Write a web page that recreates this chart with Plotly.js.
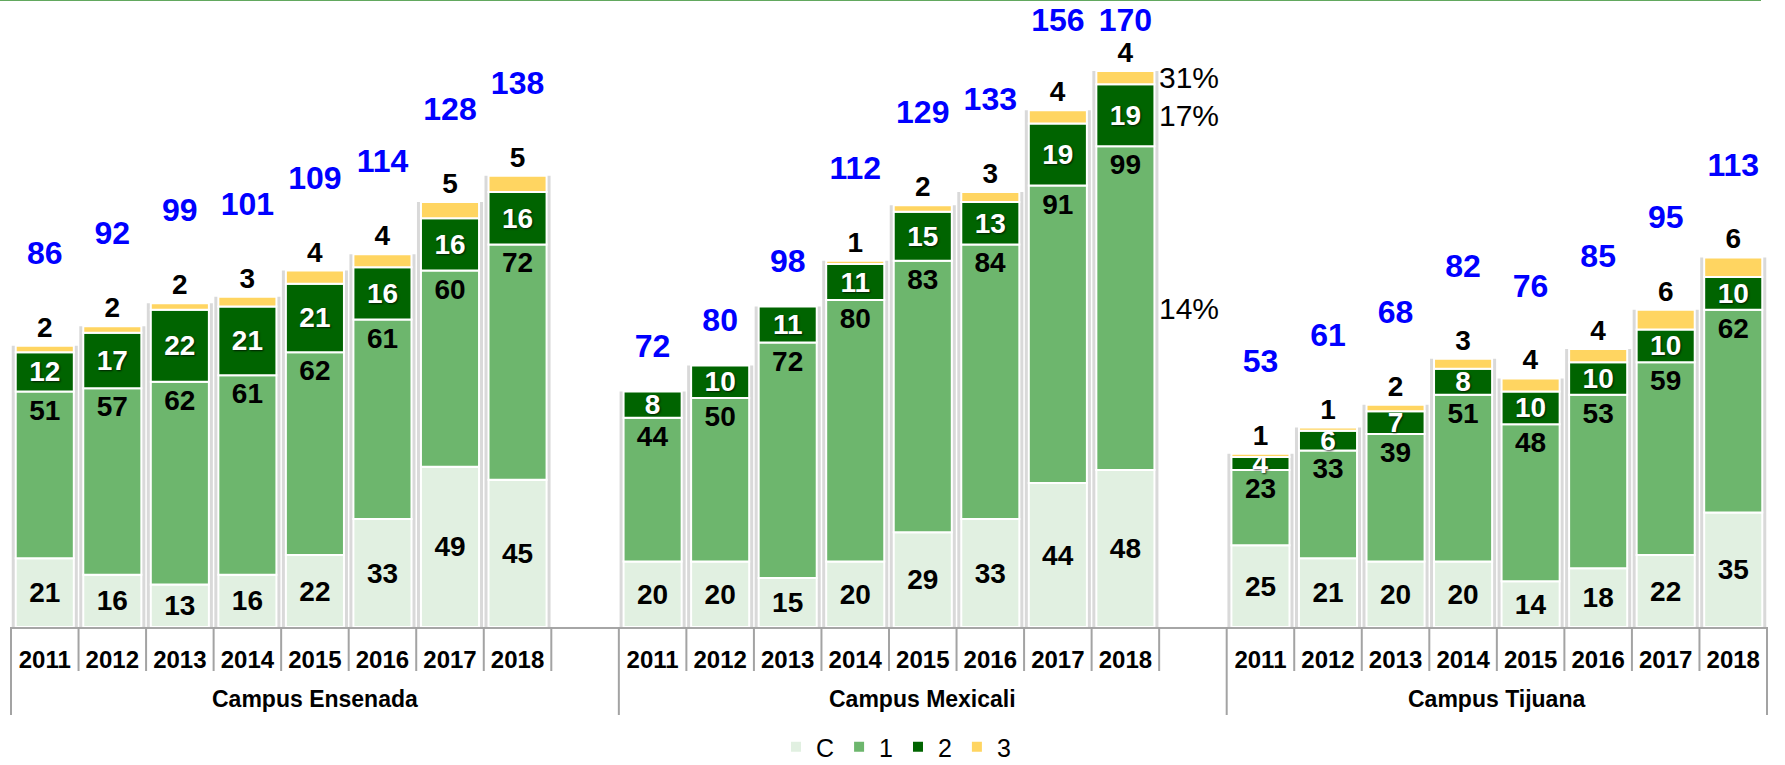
<!DOCTYPE html>
<html>
<head>
<meta charset="utf-8">
<script src="https://cdn.plot.ly/plotly-3.0.1.min.js"></script>
<style>
	html, body { margin: 0; padding: 0; background: #fff; }
	#chart { width: 1785px; height: 765px; }
</style>
</head>
<body>
<div id="chart"></div>
<script>
const campuses = ['Campus Ensenada', 'Campus Mexicali', 'Campus Tijuana'];
const years = ['2011', '2012', '2013', '2014', '2015', '2016', '2017', '2018'];
const seriesNames = ['C', '1', '2', '3'];

// one value per campus and year: Ensenada 2011-2018, Mexicali 2011-2018, Tijuana 2011-2018
const valuesC = [21, 16, 13, 16, 22, 33, 49, 45, 20, 20, 15, 20, 29, 33, 44, 48, 25, 21, 20, 20, 14, 18, 22, 35];
const values1 = [51, 57, 62, 61, 62, 61, 60, 72, 44, 50, 72, 80, 83, 84, 91, 99, 23, 33, 39, 51, 48, 53, 59, 62];
const values2 = [12, 17, 22, 21, 21, 16, 16, 16, 8, 10, 11, 11, 15, 13, 19, 19, 4, 6, 7, 8, 10, 10, 10, 10];
const values3 = [2, 2, 2, 3, 4, 4, 5, 5, null, null, null, 1, 2, 3, 4, 4, 1, 1, 2, 3, 4, 4, 6, 6];
const totals = [86, 92, 99, 101, 109, 114, 128, 138, 72, 80, 98, 112, 129, 133, 156, 170, 53, 61, 68, 82, 76, 85, 95, 113];

// labels shown beside Campus Mexicali 2018, for series 1, 2 and 3
const growthLabels = ['14%', '17%', '31%'];

const font = 'Liberation Sans, Arial, sans-serif';
const colors = ['#e1f0e1', '#6db66d', '#006400', '#ffd561'];
const pageH = 765;
const plotW = 1756;
const plotH = 627;
const pxPerUnit = 3.27;

// every campus gets one empty slot after it, except the last
const slotsPerGroup = years.length + 1;
const nSlots = campuses.length * slotsPerGroup - 1;
const xPos = [];
campuses.forEach((c, g) => years.forEach((y, i) => xPos.push(g * slotsPerGroup + i)));

const series = [valuesC, values1, values2, values3];
const bases = series.map((s, k) => s.map((_, i) => series.slice(0, k).reduce((a, t) => a + (t[i] || 0), 0)));
const stackTop = valuesC.map((_, i) => series.reduce((a, t) => a + (t[i] || 0), 0));

const py = px => 1 - px / plotH;
const slotToPaper = s => (s + 0.5) / nSlots;

const barWidth = 0.86;
const traces = [];

// soft grey shadow behind every stack
traces.push({
	type: 'bar',
	x: xPos,
	y: stackTop,
	width: barWidth + 8 / (plotW / nSlots),
	marker: {color: 'rgba(0,0,0,0.15)'},
	hoverinfo: 'skip',
	showlegend: false
});

const textAnchor = ['middle', 'end', 'middle', 'middle'];
const textColor = ['#000', '#000', '#fff', '#000'];
series.forEach((s, k) => {
	traces.push({
		type: 'bar',
		name: seriesNames[k],
		x: xPos,
		y: s,
		base: bases[k],
		width: barWidth,
		marker: {color: colors[k], line: {color: '#fff', width: 2}},
		text: s.map(v => (v == null ? '' : String(v))),
		textposition: k === 3 ? 'outside' : 'inside',
		insidetextanchor: textAnchor[k],
		textangle: 0,
		constraintext: 'none',
		textfont: {
			family: font, size: 28, color: textColor[k], weight: 'bold',
			shadow: k === 2 ? '1px 1px 2px rgba(0,0,0,0.7)' : 'none'
		},
		cliponaxis: false,
		hoverinfo: 'skip'
	});
});

// blue totals above each stack
const yMax = plotH / pxPerUnit;
traces.push({
	type: 'scatter',
	mode: 'text',
	x: xPos,
	y: stackTop.map((t, i) => Math.min(t + (values3[i] == null ? 13 : 27.5), yMax - 7)),
	text: totals.map(String),
	textposition: 'middle center',
	textfont: {family: font, size: 32, color: '#0000ff', weight: 'bold'},
	cliponaxis: false,
	hoverinfo: 'skip',
	showlegend: false
});

const shapes = [];
// thin green rule at the top of the page
shapes.push({
	type: 'line', xref: 'paper', yref: 'paper',
	x0: -11 / plotW, x1: 1750 / plotW, y0: 1, y1: 1,
	line: {color: '#62a85e', width: 2}
});

const annotations = [];
campuses.forEach((c, g) => {
	const first = g * slotsPerGroup - 0.5;
	const last = Math.min(first + slotsPerGroup, nSlots - 0.5);
	for (let k = 0; k < years.length + 1; k++) {
		const b = first + k;
		const long = k === 0;
		shapes.push({
			type: 'line', xref: 'paper', yref: 'paper',
			x0: slotToPaper(b), x1: slotToPaper(b), y0: 0, y1: py(long ? 715 : 671),
			line: {color: '#a3a3a3', width: 2}
		});
	}
	annotations.push({
		xref: 'paper', yref: 'paper',
		x: slotToPaper((first + last) / 2), y: py(699),
		xanchor: 'center', yanchor: 'middle', showarrow: false,
		text: c,
		font: {family: font, size: 23, color: '#000', weight: 'bold'}
	});
});
shapes.push({
	type: 'line', xref: 'paper', yref: 'paper',
	x0: 1, x1: 1, y0: 0, y1: py(715),
	line: {color: '#a3a3a3', width: 2}
});

// growth labels next to Campus Mexicali 2018
const mxIdx = years.length + years.length - 1;
growthLabels.forEach((lab, j) => {
	const k = j + 1;
	annotations.push({
		xref: 'x', yref: 'y',
		x: xPos[mxIdx] + barWidth / 2 + 0.04,
		y: bases[k][mxIdx] + series[k][mxIdx] / 2,
		xanchor: 'left', yanchor: 'middle', showarrow: false,
		text: lab,
		font: {family: font, size: 30, color: '#000'}
	});
});

const layout = {
	width: 1785,
	height: pageH,
	margin: {l: 11, r: 18, t: 0, b: pageH - plotH},
	paper_bgcolor: '#fff',
	plot_bgcolor: '#fff',
	barmode: 'overlay',
	hovermode: false,
	showlegend: true,
	legend: {
		orientation: 'h',
		xref: 'paper', x: 0.504, xanchor: 'center',
		yref: 'container', y: 1 - 747 / pageH, yanchor: 'middle',
		traceorder: 'normal',
		font: {family: font, size: 25, color: '#000'},
		bgcolor: 'rgba(0,0,0,0)'
	},
	xaxis: {
		range: [-0.5, nSlots - 0.5],
		tickmode: 'array',
		tickvals: xPos,
		ticktext: xPos.map((_, i) => years[i % years.length]),
		ticks: 'outside', ticklen: 10, tickcolor: 'rgba(0,0,0,0)',
		tickfont: {family: font, size: 24, color: '#000', weight: 'bold'},
		showline: true, linecolor: '#a6a6a6', linewidth: 2,
		showgrid: false, zeroline: false
	},
	yaxis: {range: [0, yMax], visible: false},
	shapes: shapes,
	annotations: annotations
};

Plotly.newPlot('chart', traces, layout, {displayModeBar: false, staticPlot: true});
</script>
</body>
</html>
